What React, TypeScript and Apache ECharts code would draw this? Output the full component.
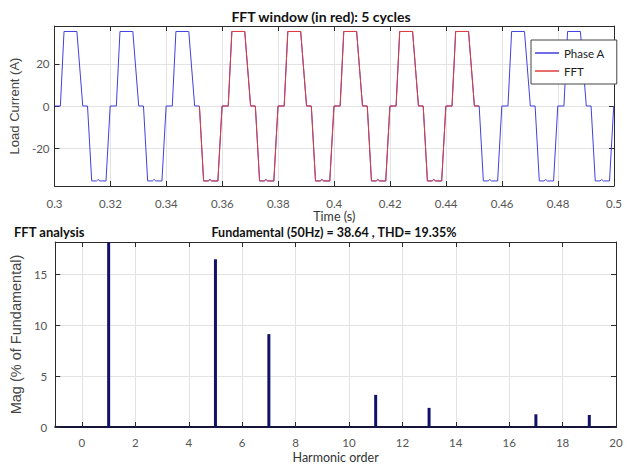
import React, { useEffect, useRef } from 'react';
import * as echarts from 'echarts';

// ---- Top plot: load current waveform ----
const cycleStarts = [0.3, 0.32, 0.34, 0.36, 0.38, 0.4, 0.42, 0.44, 0.46, 0.48];
// one 20 ms period: time offsets (ms) and currents (A)
const cycleShapeMs = [0, 2.1, 3.4, 8.0, 10.1, 11.8, 13.3, 15.0, 15.6, 16.2, 18.4, 19.9];
const cycleShapeAmps = [0, 0, 35.4, 35.4, 0, 0, -35.6, -35.6, -34.9, -35.6, -35.6, 0];
const waveEnd = [0.5, 0];
const fftWindow = [0.3515, 0.452];
const timeTicks = [0.3, 0.32, 0.34, 0.36, 0.38, 0.4, 0.42, 0.44, 0.46, 0.48, 0.5];
const currentTicks = [-20, 0, 20];
const currentRange = [-38, 38];

// ---- Bottom plot: harmonic spectrum ----
const harmonicOrders = [0, 1, 2, 3, 4, 5, 6, 7, 8, 9, 10, 11, 12, 13, 14, 15, 16, 17, 18, 19, 20];
const harmonicMags = [0, 100, 0, 0, 0, 16.5, 0, 9.14, 0, 0, 0, 3.16, 0, 1.88, 0, 0, 0, 1.25, 0, 1.18, 0];
const harmonicTicks = [0, 2, 4, 6, 8, 10, 12, 14, 16, 18, 20];
const magTicks = [0, 5, 10, 15];
const magRange = [0, 18.2];
const harmonicRange = [-1, 20];

const NARROW = 'Lato, "Roboto", sans-serif';
const SANS = '"Liberation Sans", Arial, sans-serif';

function buildWave(): number[][] {
  const pts: number[][] = [];
  cycleStarts.forEach((t0) => {
    cycleShapeMs.forEach((ms, i) => {
      pts.push([+(t0 + ms / 1000).toFixed(5), cycleShapeAmps[i]]);
    });
  });
  pts.push(waveEnd);
  return pts;
}

export default function App() {
  const ref = useRef<HTMLDivElement>(null);
  useEffect(() => {
    if (!ref.current) return;
    const chart = echarts.init(ref.current, undefined, { renderer: 'svg' });
    const wave = buildWave();
    const red = wave.filter((p) => p[0] >= fftWindow[0] && p[0] <= fftWindow[1]);
    const bars = harmonicOrders.map((h, i) => [h, harmonicMags[i]]);

    const tickLabel = { fontFamily: NARROW, fontSize: 11.5, color: '#555' };
    const boxLine = { show: true, onZero: false, lineStyle: { color: '#2b2b2b', width: 1 } };
    const split = { show: true, lineStyle: { color: '#e3e3e3', width: 1 } };

    const option: any = {
      animation: false,
      backgroundColor: '#ffffff',
      grid: [
        { left: 51, top: 26, width: 563, height: 160 },
        { left: 49, top: 242, width: 567, height: 185 },
      ],
      legend: {
        data: ['Phase A', 'FFT'],
        orient: 'vertical',
        left: 531,
        top: 40,
        icon: 'rect',
        backgroundColor: '#ffffff',
        borderColor: '#444',
        borderWidth: 1,
        padding: [7, 12, 7, 4],
        itemWidth: 24,
        itemHeight: 1.5,
        itemGap: 6,
        textStyle: { fontFamily: NARROW, fontSize: 11.5, color: '#222' },
      },
      xAxis: [
        {
          type: 'value', gridIndex: 0, min: 0.3, max: 0.5, position: 'bottom',
          axisLine: boxLine,
          axisTick: { show: true, inside: true, length: 5, customValues: timeTicks, lineStyle: { color: '#2b2b2b' } },
          axisLabel: { ...tickLabel, margin: 11, customValues: timeTicks, formatter: (v: number) => String(+v.toFixed(2)) },
          splitLine: split,
          name: 'Time (s)', nameLocation: 'middle', nameGap: 20,
          nameTextStyle: { fontFamily: NARROW, fontSize: 12.5, color: '#333' },
        },
        {
          type: 'value', gridIndex: 0, min: 0.3, max: 0.5, position: 'top',
          axisLine: boxLine,
          axisTick: { show: true, inside: true, length: 5, customValues: timeTicks, lineStyle: { color: '#2b2b2b' } },
          axisLabel: { show: false },
          splitLine: { show: false },
        },
        {
          type: 'value', gridIndex: 1, min: harmonicRange[0], max: harmonicRange[1], position: 'bottom',
          axisLine: { show: true, onZero: false, lineStyle: { color: '#15153a', width: 2 } },
          axisTick: { show: true, inside: true, length: 5, customValues: harmonicTicks, lineStyle: { color: '#2b2b2b' } },
          axisLabel: { ...tickLabel, margin: 9, customValues: harmonicTicks },
          splitLine: split,
          name: 'Harmonic order', nameLocation: 'middle', nameGap: 24,
          nameTextStyle: { fontFamily: NARROW, fontSize: 12.5, color: '#333' },
        },
        {
          type: 'value', gridIndex: 1, min: harmonicRange[0], max: harmonicRange[1], position: 'top',
          axisLine: boxLine,
          axisTick: { show: true, inside: true, length: 5, customValues: harmonicTicks, lineStyle: { color: '#2b2b2b' } },
          axisLabel: { show: false },
          splitLine: { show: false },
        },
      ],
      yAxis: [
        {
          type: 'value', gridIndex: 0, min: currentRange[0], max: currentRange[1], position: 'left',
          axisLine: boxLine,
          axisTick: { show: true, inside: true, length: 5, customValues: currentTicks, lineStyle: { color: '#2b2b2b' } },
          axisLabel: { ...tickLabel, margin: 5, customValues: currentTicks },
          splitLine: split,
          name: 'Load Current (A)', nameLocation: 'middle', nameGap: 23,
          nameTextStyle: { fontFamily: SANS, fontSize: 13, color: '#444' },
        },
        {
          type: 'value', gridIndex: 0, min: currentRange[0], max: currentRange[1], position: 'right',
          axisLine: boxLine,
          axisTick: { show: true, inside: true, length: 5, customValues: currentTicks, lineStyle: { color: '#2b2b2b' } },
          axisLabel: { show: false },
          splitLine: { show: false },
        },
        {
          type: 'value', gridIndex: 1, min: magRange[0], max: magRange[1], position: 'left',
          axisLine: boxLine,
          axisTick: { show: true, inside: true, length: 5, customValues: magTicks, lineStyle: { color: '#2b2b2b' } },
          axisLabel: { ...tickLabel, margin: 8, customValues: magTicks },
          splitLine: split,
          name: 'Mag (% of Fundamental)', nameLocation: 'middle', nameGap: 19,
          nameTextStyle: { fontFamily: SANS, fontSize: 14.5, color: '#444' },
        },
        {
          type: 'value', gridIndex: 1, min: magRange[0], max: magRange[1], position: 'right',
          axisLine: boxLine,
          axisTick: { show: true, inside: true, length: 5, customValues: magTicks, lineStyle: { color: '#2b2b2b' } },
          axisLabel: { show: false },
          splitLine: { show: false },
        },
      ],
      series: [
        {
          name: 'Phase A', type: 'line', xAxisIndex: 0, yAxisIndex: 0, data: wave,
          symbol: 'none', lineStyle: { color: '#4040de', width: 1 }, itemStyle: { color: '#4040de' },
          clip: true,
        },
        {
          name: 'FFT', type: 'line', xAxisIndex: 0, yAxisIndex: 0, data: red,
          symbol: 'none', lineStyle: { color: '#e23c3c', width: 1 }, itemStyle: { color: '#e23c3c' },
          clip: true,
        },
        {
          name: 'Harmonics', type: 'bar', xAxisIndex: 2, yAxisIndex: 2, data: bars,
          barWidth: 3, itemStyle: { color: '#12126a' }, clip: true,
        },
      ],
      graphic: [
        {
          type: 'text', x: 321, y: 16,
          style: { text: 'FFT window (in red): 5 cycles', align: 'center', verticalAlign: 'middle', font: `bold 14px ${NARROW}`, fill: '#111' },
        },
        {
          type: 'text', x: 14, y: 232,
          style: { text: 'FFT analysis', align: 'left', verticalAlign: 'middle', font: `bold 13px ${NARROW}`, fill: '#111' },
        },
        {
          type: 'text', x: 334, y: 232,
          style: { text: 'Fundamental (50Hz) = 38.64 , THD= 19.35%', align: 'center', verticalAlign: 'middle', font: `bold 12.5px ${NARROW}`, fill: '#111' },
        },
      ],
    };
    chart.setOption(option);
    return () => chart.dispose();
  }, []);
  return <div ref={ref} style={{ position: 'absolute', left: 0, top: 0, width: 632, height: 465 }} />;
}
